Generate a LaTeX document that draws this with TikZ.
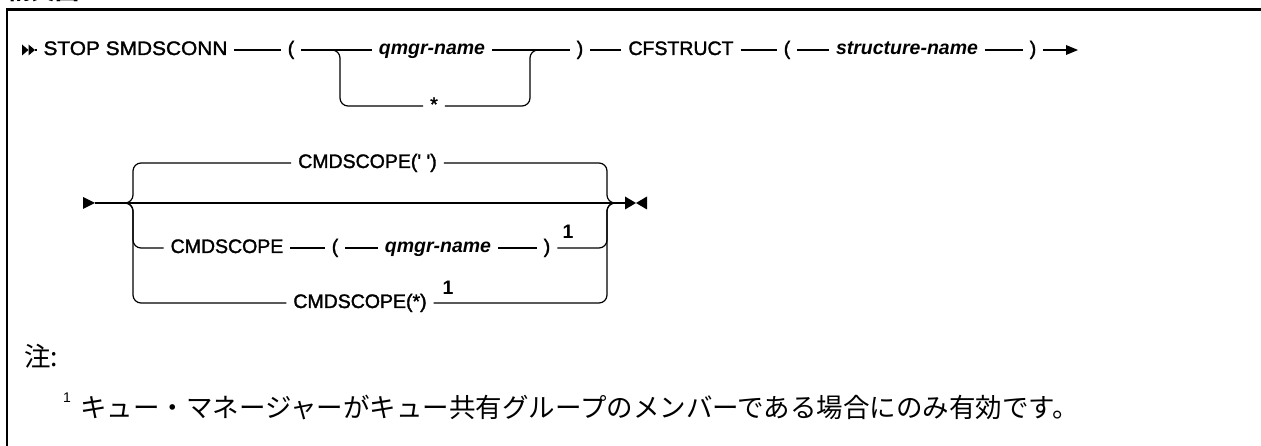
\documentclass[tikz,border=0pt]{standalone}
\usepackage{fontspec}
\setmainfont{Liberation Sans}
\newfontfamily\lib{Liberation Sans}[FakeBold=1.6]
\newfontfamily\libv{Liberation Sans}
\newfontfamily\cjk{Noto Sans CJK JP}
\usetikzlibrary{calc}
\begin{document}
\begin{tikzpicture}[x=1pt,y=-1pt,
  rr/.style={line width=1.2pt},
  kw/.style={inner sep=0pt, outer xsep=7pt, text height=14pt, text depth=4pt, anchor=base,
    font=\lib\fontsize{19.5}{22}\selectfont},
  var/.style={kw, font=\libv\fontsize{19.5}{22}\selectfont\bfseries\itshape},
  fnmark/.style={inner sep=0pt, anchor=base, font=\libv\fontsize{19.5}{22}\selectfont\bfseries},
  jp/.style={inner sep=0pt, anchor=base west, font=\cjk\fontsize{26.5}{28}\selectfont},
  corner/.style={rr, rounded corners=8pt}]
\clip (0,0) rectangle (1261,446);
\fill[white] (0,0) rectangle (1261,446);
% heading (cut off at the top)
\node[inner sep=0pt, anchor=base west, font=\cjk\fontsize{24}{26}\selectfont\bfseries] (head) at (7,-0.5) {構文図:};
% frame
\draw[line width=2.2pt] (1261,9.5) -- (7,9.5) -- (7,446);

% ---------- row 1 ----------
\fill (22,44.5) -- (28.5,50) -- (22,55.5) -- cycle;
\fill (28.5,44.5) -- (35,50) -- (28.5,55.5) -- cycle;
\coordinate (s1) at (35,50);
\node[kw] (stop) at (135.5,55) {\scalebox{1.07}[1]{STOP SMDSCONN}};
\node[kw] (lp1) at (291,55) {(};
\node[var] (qm1) at (432,55) {qmgr-name};
\node[kw] (star) at (434,111) {*};
\node[kw] (rp1) at (580,55) {)};
\node[kw] (cf) at (681,55) {CFSTRUCT};
\node[kw] (lp2) at (787,55) {(};
\node[var] (sn) at (907,55) {structure-name};
\node[kw] (rp2) at (1033,55) {)};
\coordinate (e1) at (1068,50);
\coordinate (jl1) at (340,50);
\coordinate (jr1) at (530,50);
\draw[rr] (s1) -- (stop) (stop) -- (lp1) (lp1) -- (qm1) (qm1) -- (rp1)
  (rp1) -- (cf) (cf) -- (lp2) (lp2) -- (sn) (sn) -- (rp2) (rp2) -- (e1);
\fill (1066,45) -- (1078,50) -- (1066,55) -- cycle;
\draw[corner] ($(jl1)+(-8,0)$) -- (jl1) |- (star.west);
\draw[corner] (star.east) -| (jr1) -- ++(8,0);

% ---------- row 2 ----------
\fill (83,197) -- (95,203) -- (83,209) -- cycle;
\coordinate (s2) at (95,203);
\coordinate (jl2) at (133,203);
\coordinate (jr2) at (607,203);
\coordinate (e2) at (625,203);
\draw[rr] (s2) -- (e2);
\fill (625,196.5) -- (636,203) -- (625,209.5) -- cycle;
\fill (647,196.5) -- (636,203) -- (647,209.5) -- cycle;

\node[kw] (cs0) at (367.5,168) {CMDSCOPE(' ')};
\node[kw] (cs1) at (227,253) {CMDSCOPE};
\node[kw] (lp3) at (335,253) {(};
\node[var] (qm2) at (438,253) {qmgr-name};
\node[kw] (rp3) at (547,253) {)};
\node[fnmark] (n1) at (568,239) {1};
\node[kw] (cs2) at (360,308) {CMDSCOPE(*)};
\node[fnmark] (n2) at (448,295) {1};

\draw[corner] ($(jl2)+(-8,0)$) -- (jl2) |- (cs0.west);
\draw[corner] ($(jl2)+(-8,0)$) -- (jl2) |- (cs1.west);
\draw[corner] ($(jl2)+(-8,0)$) -- (jl2) |- (cs2.west);
\draw[corner] (cs0.east) -| (jr2) -- ++(8,0);
\draw[corner] (rp3.east) -| (jr2) -- ++(8,0);
\draw[corner] (cs2.east) -| (jr2) -- ++(8,0);
\draw[rr] (cs1) -- (lp3) (lp3) -- (qm2) (qm2) -- (rp3);

% ---------- notes ----------
\node[jp] (note) at (24,366) {注:};
\node[inner sep=0pt, anchor=base west, font=\libv\fontsize{14}{16}\selectfont] (fn1) at (63,402) {1};
\node[jp] (fntext) at (80,417) {キュー・マネージャーがキュー共有グループのメンバーである場合にのみ有効です。};
\end{tikzpicture}
\end{document}
